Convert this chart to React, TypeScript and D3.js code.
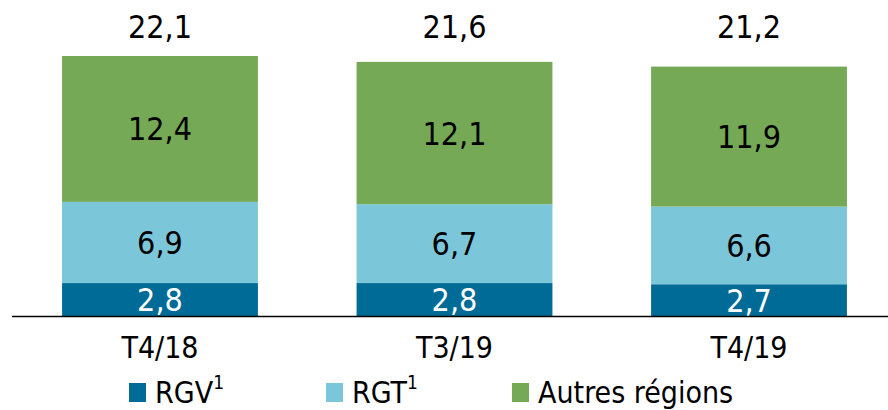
import React from 'react';
import { scaleBand, scaleLinear, stack } from 'd3';

const categories = ['T4/18', 'T3/19', 'T4/19'];
const rgv = [2.8, 2.8, 2.7];
const rgt = [6.9, 6.7, 6.6];
const autres = [12.4, 12.1, 11.9];
const totals = [22.1, 21.6, 21.2];
const seriesKeys = ['rgv', 'rgt', 'autres'];
const seriesColors = ['#006b96', '#7cc6d9', '#75a955'];
const legendLabels = [
  { name: 'RGV', sup: '1' },
  { name: 'RGT', sup: '1' },
  { name: 'Autres régions', sup: '' },
];

const width = 888;
const height = 410;
const baseline = 316;
const font = "'DejaVu Sans Condensed', 'DejaVu Sans', sans-serif";

const fmt = (v: number) => v.toFixed(1).replace('.', ',');

const App = () => {
  const rows = categories.map((c, i) => ({ cat: c, rgv: rgv[i], rgt: rgt[i], autres: autres[i] }));
  const stacked = stack<any>().keys(seriesKeys)(rows);

  const xScale = scaleBand()
    .domain(categories)
    .range([12, 897])
    .paddingInner(0.335)
    .paddingOuter(0.17);

  const yScale = scaleLinear().domain([0, 22.1]).range([baseline, 56]);

  // legend swatch positions
  const legendX = [129, 326, 512];

  return (
    <svg width={width} height={height} style={{ position: 'absolute', left: 0, top: 0 }}>
      <rect width={width} height={height} fill="#fff" />
      {stacked.map((s, si) => (
        <g key={s.key}>
          {s.map((d, i) => {
            const x = xScale(categories[i])!;
            const y0 = yScale(d[0]);
            const y1 = yScale(d[1]);
            return (
              <g key={categories[i]}>
                <rect x={x} y={y1} width={xScale.bandwidth()} height={y0 - y1} fill={seriesColors[si]} />
                <text
                  x={x + xScale.bandwidth() / 2}
                  y={(y0 + y1) / 2}
                  dy=".36em"
                  textAnchor="middle"
                  fontFamily={font}
                  fontSize={32}
                  fill={si === 0 ? '#fff' : '#000'}
                >
                  {fmt(d[1] - d[0])}
                </text>
              </g>
            );
          })}
        </g>
      ))}

      {categories.map((c, i) => (
        <g key={c}>
          <text
            x={xScale(c)! + xScale.bandwidth() / 2}
            y={38}
            textAnchor="middle"
            fontFamily={font}
            fontSize={32}
            fill="#000"
          >
            {fmt(totals[i])}
          </text>
          <text
            x={xScale(c)! + xScale.bandwidth() / 2}
            y={358}
            textAnchor="middle"
            fontFamily={font}
            fontSize={30}
            fill="#000"
          >
            {c}
          </text>
        </g>
      ))}

      <line x1={12} x2={888} y1={baseline + 0.5} y2={baseline + 0.5} stroke="#000" strokeWidth={1.5} />

      {legendLabels.map((l, i) => (
        <g key={l.name}>
          <rect x={legendX[i]} y={383} width={17} height={19} fill={seriesColors[i]} />
          <text x={legendX[i] + 26} y={403} fontFamily={font} fontSize={30} fill="#000">
            {l.name}
            {l.sup && (
              <tspan fontSize={19} dy={-14}>
                {l.sup}
              </tspan>
            )}
          </text>
        </g>
      ))}
    </svg>
  );
};

export default App;
